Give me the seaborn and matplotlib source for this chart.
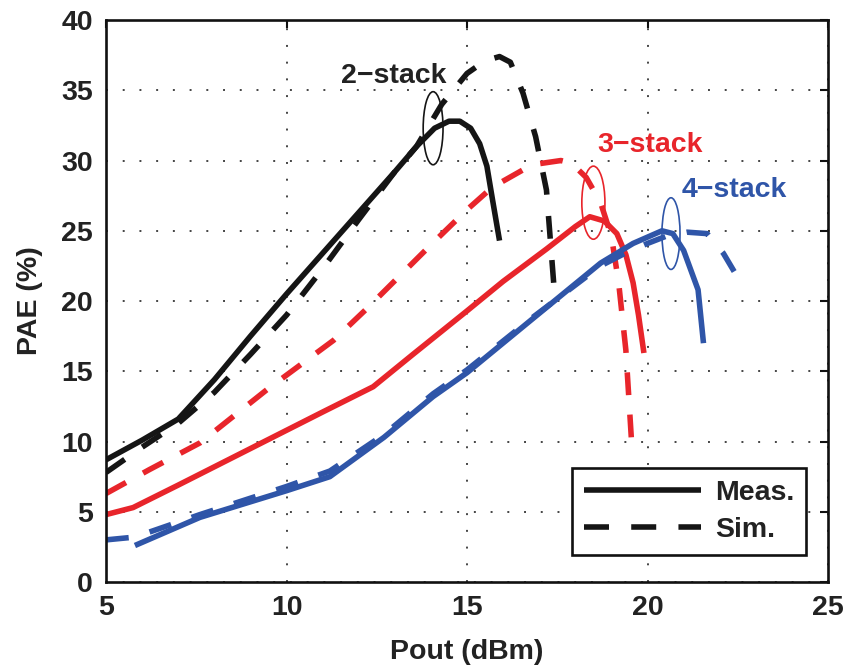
import matplotlib
matplotlib.use("Agg")
import matplotlib.pyplot as plt
from matplotlib.lines import Line2D
from matplotlib.patches import Ellipse
import numpy as np
import pandas as pd
import seaborn as sns

# PAE vs output power for stacked-FET amplifiers
meas2_x = [5, 6, 7, 8, 9, 10, 11, 12, 13, 13.6, 14.1, 14.5, 14.8, 15.1, 15.35, 15.55, 15.7, 15.9]
meas2_y = [8.7, 10.1, 11.6, 14.4, 17.5, 20.5, 23.4, 26.3, 29.2, 31.0, 32.3, 32.8, 32.8, 32.3, 31.2, 29.6, 27.3, 24.3]
sim2_x = [5, 6, 7, 8, 9, 10, 11, 12, 13, 13.6, 14.3, 15.0, 15.5, 15.9, 16.2, 16.55, 16.9, 17.2, 17.4]
sim2_y = [7.8, 9.6, 11.3, 13.5, 16.2, 19.0, 22.3, 25.8, 29.2, 31.0, 34.0, 36.2, 37.1, 37.4, 37.0, 34.8, 31.7, 27.9, 21.3]

meas3_x = [5, 5.75, 7, 8, 9, 10, 11, 12.4, 13.5, 15, 16, 17.2, 18.0, 18.4, 18.8, 19.15, 19.4, 19.6, 19.75, 19.9]
meas3_y = [4.8, 5.3, 6.9, 8.2, 9.5, 10.8, 12.1, 13.9, 16.2, 19.3, 21.4, 23.7, 25.3, 26.0, 25.7, 24.8, 23.3, 21.3, 19.0, 16.3]
sim3_x = [5, 6.2, 7.6, 9.46, 11.3, 12.2, 13.1, 14.0, 15.0, 15.7, 16.8, 17.6, 17.9, 18.3, 18.7, 19.0, 19.2, 19.4, 19.55]
sim3_y = [6.3, 8.0, 9.9, 13.7, 17.2, 19.4, 21.7, 24.0, 26.5, 28.1, 29.7, 30.0, 29.8, 28.8, 27.0, 24.6, 21.3, 16.5, 10.3]

meas4_x = [5.8, 7.6, 10.0, 11.2, 12.7, 14.06, 15.0, 16.8, 18.7, 19.6, 20.4, 20.7, 21.0, 21.4, 21.55]
meas4_y = [2.6, 4.6, 6.5, 7.5, 10.3, 13.2, 14.9, 18.7, 22.7, 24.1, 25.0, 24.8, 23.6, 20.8, 17.0]
sim4_x = [5, 5.8, 7.6, 10.0, 11.2, 12.7, 14.06, 15.0, 16.8, 18.7, 19.3, 20.0, 20.5, 21.1, 21.65, 22.1, 22.4]
sim4_y = [3.0, 3.2, 4.8, 6.8, 7.9, 10.5, 13.4, 15.1, 18.8, 22.5, 23.3, 24.1, 24.6, 24.9, 24.8, 23.4, 22.1]

stacks = ["2\u2212stack", "3\u2212stack", "4\u2212stack"]
kinds = ["Meas.", "Sim."]
x_ticks = [5, 10, 15, 20, 25]
y_ticks = [0, 5, 10, 15, 20, 25, 30, 35, 40]

series = [
    (stacks[0], kinds[0], meas2_x, meas2_y), (stacks[0], kinds[1], sim2_x, sim2_y),
    (stacks[1], kinds[0], meas3_x, meas3_y), (stacks[1], kinds[1], sim3_x, sim3_y),
    (stacks[2], kinds[0], meas4_x, meas4_y), (stacks[2], kinds[1], sim4_x, sim4_y),
]
rows = []
for stack, kind, xs, ys in series:
    for xv, yv in zip(xs, ys):
        rows.append({"Pout": xv, "PAE": yv, "stack": stack, "kind": kind, "curve": stack + kind})
df = pd.DataFrame(rows)

colors = {stacks[0]: "#151515", stacks[1]: "#e8252b", stacks[2]: "#2f55a8"}
lw = 4.0
dash = (4.1, 3.7)
fs = 20.5
txt = "#222222"
DPI = 100

sns.set_style("white")
plt.rcParams["font.family"] = ["Liberation Sans", "DejaVu Sans"]
plt.rcParams["font.weight"] = "bold"

fig = plt.figure(figsize=(8.49, 6.70), dpi=DPI)
ax = fig.add_axes([0.1249, 0.1313, 0.8504, 0.8388])

sns.lineplot(data=df, x="Pout", y="PAE", hue="stack", style="kind", units="curve",
             estimator=None, sort=False, palette=colors,
             dashes={kinds[0]: "", kinds[1]: dash}, linewidth=lw,
             legend=False, ax=ax)

ax.set_xlim(5, 25)
ax.set_ylim(0, 40)
ax.set_xticks(x_ticks)
ax.set_yticks(y_ticks)

# Thick butt-capped curves; simulated curves stretch their gaps slightly
# so each one both starts and ends on a full dash
for ln in ax.lines:
    dashed = ln.get_linestyle() == "--"
    ln.set_linewidth(lw)
    ln.set_solid_capstyle("butt")
    ln.set_dash_capstyle("butt")
    if dashed:
        pts = ax.transData.transform(ln.get_xydata()) * 72.0 / DPI
        length = np.sum(np.hypot(*np.diff(pts, axis=0).T)) / lw
        n = max(1, round((length - dash[0]) / (dash[0] + dash[1])))
        gap = (length - dash[0]) / n - dash[0]
        ln.set_linestyle((0, (dash[0], gap)))

ax.grid(True, color="#444444", linestyle=(0, (1, 7.6)), linewidth=1.4)
ax.set_axisbelow(True)

for s in ax.spines.values():
    s.set_color("#111111")
    s.set_linewidth(1.9)
ax.tick_params(direction="in", length=6, width=1.5, top=True, right=True,
               labelsize=fs, colors="#111111")
ax.tick_params(axis="x", pad=9.5)
ax.tick_params(axis="y", pad=9.5)
for lab in ax.get_xticklabels() + ax.get_yticklabels():
    lab.set_fontweight("bold")
    lab.set_color(txt)

ax.set_xlabel("Pout (dBm)", fontsize=fs, fontweight="bold", color=txt, labelpad=13)
ax.set_ylabel("PAE (%)", fontsize=fs, fontweight="bold", color=txt, labelpad=13)

# Curve group labels with their marker ellipses
ax.text(11.5, 36.0, stacks[0], color=txt, fontsize=fs, fontweight="bold", va="center", ha="left")
ax.text(18.6, 31.1, stacks[1], color=colors[stacks[1]], fontsize=fs, fontweight="bold", va="center", ha="left")
ax.text(20.95, 27.9, stacks[2], color=colors[stacks[2]], fontsize=fs, fontweight="bold", va="center", ha="left")
ax.add_patch(Ellipse((14.06, 32.3), 0.55, 5.2, fill=False, edgecolor="#151515", linewidth=1.2))
ax.add_patch(Ellipse((18.5, 27.0), 0.64, 5.2, fill=False, edgecolor=colors[stacks[1]], linewidth=1.2))
ax.add_patch(Ellipse((20.65, 24.8), 0.5, 5.1, fill=False, edgecolor=colors[stacks[2]], linewidth=1.2))

handles = [Line2D([], [], color="#151515", linewidth=lw, solid_capstyle="butt"),
           Line2D([], [], color="#151515", linewidth=lw, dashes=(4.5, 4.0), dash_capstyle="butt")]
leg = ax.legend(handles, kinds, loc="lower right", bbox_to_anchor=(0.9695, 0.048),
                prop={"size": fs, "weight": "bold"}, handlelength=4.1, handletextpad=0.5,
                borderpad=0.41, labelspacing=0.41, borderaxespad=0.0, fancybox=False,
                framealpha=1, edgecolor="#111111")
leg.get_frame().set_linewidth(1.9)
for t in leg.get_texts():
    t.set_color(txt)

fig.savefig("out.png", dpi=DPI, facecolor="white")
